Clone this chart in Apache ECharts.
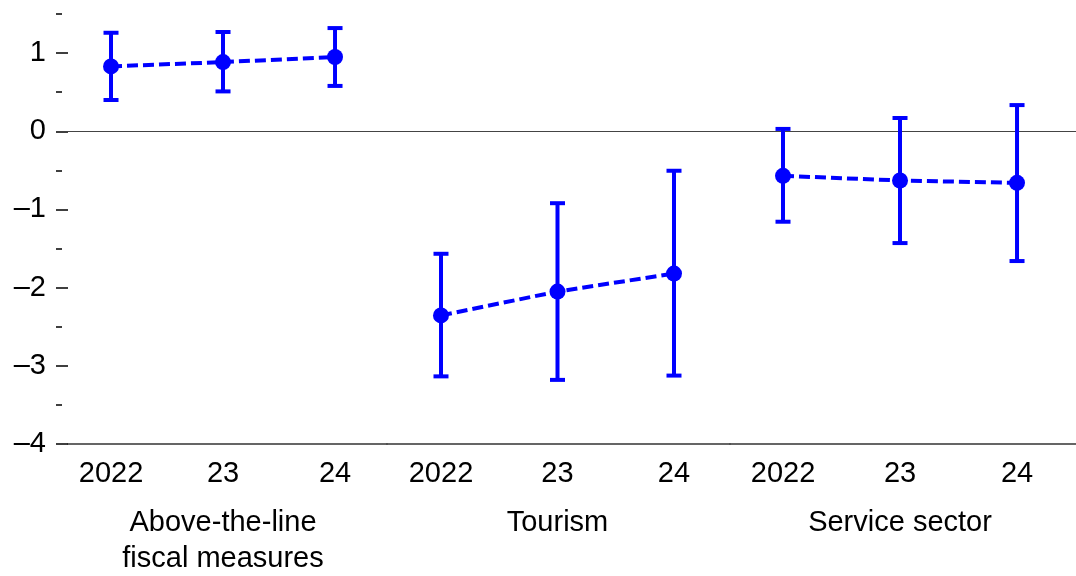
<!DOCTYPE html>
<html>
<head>
<meta charset="utf-8">
<script src="https://cdn.jsdelivr.net/npm/echarts@6/dist/echarts.min.js"></script>
<style>
  html, body { margin: 0; padding: 0; background: #fff; }
  #chart { width: 1076px; height: 576px; }
</style>
</head>
<body>
<div id="chart"></div>
<script>
// Year labels shared by every panel
const years = ['2022', '23', '24'];

// Panel titles (drawn under the middle year)
const groupNames = [
  'Above-the-line\nfiscal measures',
  'Tourism',
  'Service sector'
];

// Point estimates per panel
const fiscalMid = [0.83, 0.885, 0.95];
const tourismMid = [-2.355, -2.05, -1.82];
const serviceMid = [-0.57, -0.63, -0.66];

// Lower / upper bounds of the intervals
const fiscalLow = [0.40, 0.51, 0.58];
const fiscalHigh = [1.26, 1.27, 1.32];
const tourismLow = [-3.135, -3.18, -3.125];
const tourismHigh = [-1.567, -0.92, -0.505];
const serviceLow = [-1.157, -1.43, -1.66];
const serviceHigh = [0.03, 0.17, 0.335];

// Y axis tick values
const majorTicks = [-4, -3, -2, -1, 0, 1];
const minorTicks = [-3.5, -2.5, -1.5, -0.5, 0.5, 1.5];

const FONT = '"Liberation Sans", Arial, sans-serif';
const FONT_SIZE = 29;
const BLUE = '#0000ff';

const mids = [fiscalMid, tourismMid, serviceMid];
const lows = [fiscalLow, tourismLow, serviceLow];
const highs = [fiscalHigh, tourismHigh, serviceHigh];

// Panel layout: pixel frame and x extent of each panel
const panels = [
  { left: 68, width: 319, min: -0.384, max: 2.464 },
  { left: 387, width: 343, min: -0.4635, max: 2.4807 },
  { left: 730, width: 346, min: -0.453, max: 2.504 }
];

const grid = panels.map(p => ({
  left: p.left, width: p.width, top: 14, height: 430,
  containLabel: false, outerBoundsMode: 'none'
}));

const xAxis = [];
panels.forEach((p, gi) => {
  // Year labels plus the baseline of the panel
  xAxis.push({
    type: 'value',
    gridIndex: gi,
    position: 'bottom',
    min: p.min,
    max: p.max,
    splitLine: { show: false },
    axisTick: { show: false },
    axisLine: { show: true, onZero: false, lineStyle: { color: '#333', width: 1.5 } },
    axisLabel: {
      customValues: [0, 1, 2],
      hideOverlap: false,
      margin: 13,
      fontFamily: FONT,
      fontSize: FONT_SIZE,
      lineHeight: 34,
      color: '#000',
      formatter: v => years[Math.round(v)]
    }
  });
  // Panel title, centred under the middle year
  xAxis.push({
    type: 'value',
    gridIndex: gi,
    position: 'bottom',
    min: p.min,
    max: p.max,
    splitLine: { show: false },
    axisTick: { show: false },
    axisLine: { show: false, onZero: false },
    axisLabel: {
      customValues: [1],
      hideOverlap: false,
      margin: 61,
      fontFamily: FONT,
      fontSize: FONT_SIZE,
      lineHeight: 36,
      color: '#000',
      align: 'center',
      formatter: () => groupNames[gi]
    }
  });
});

const yAxis = [];
panels.forEach((p, gi) => {
  yAxis.push({
    type: 'value',
    gridIndex: gi,
    position: 'left',
    min: -4,
    max: 1.5,
    interval: 0.5,
    splitLine: { show: false },
    axisLine: { show: false, onZero: false },
    axisTick: gi === 0 ? {
      show: true,
      customValues: majorTicks,
      length: 12,
      lineStyle: { color: '#000', width: 1.5 }
    } : { show: false },
    axisLabel: gi === 0 ? {
      show: true,
      customValues: majorTicks,
      margin: 22,
      fontFamily: FONT,
      fontSize: FONT_SIZE,
      color: '#000',
      formatter: v => String(v).replace('-', '\u2013')
    } : { show: false }
  });
});
// Short half-unit ticks, set slightly off the axis
yAxis.push({
  type: 'value',
  gridIndex: 0,
  position: 'left',
  offset: 6,
  min: -4,
  max: 1.5,
  interval: 0.5,
  splitLine: { show: false },
  axisLine: { show: false, onZero: false },
  axisLabel: { show: false },
  axisTick: {
    show: true,
    customValues: minorTicks,
    length: 6,
    lineStyle: { color: '#000', width: 1.5 }
  }
});

function errorBar(params, api) {
  const x = api.value(0);
  const top = api.coord([x, api.value(2)]);
  const bot = api.coord([x, api.value(1)]);
  const half = 7.5;
  const style = { stroke: BLUE, lineWidth: 4 };
  return {
    type: 'group',
    children: [
      { type: 'line', shape: { x1: top[0], y1: top[1], x2: bot[0], y2: bot[1] }, style },
      { type: 'line', shape: { x1: top[0] - half, y1: top[1], x2: top[0] + half, y2: top[1] }, style },
      { type: 'line', shape: { x1: bot[0] - half, y1: bot[1], x2: bot[0] + half, y2: bot[1] }, style }
    ]
  };
}

const series = [];
panels.forEach((p, gi) => {
  const xi = gi * 2;
  series.push({
    type: 'custom',
    xAxisIndex: xi,
    yAxisIndex: gi,
    renderItem: errorBar,
    encode: { x: 0, y: [1, 2] },
    data: years.map((_, i) => [i, lows[gi][i], highs[gi][i]]),
    z: 2,
    silent: true
  });
  series.push({
    type: 'line',
    xAxisIndex: xi,
    yAxisIndex: gi,
    data: years.map((_, i) => [i, mids[gi][i]]),
    symbol: 'circle',
    symbolSize: 16,
    itemStyle: { color: BLUE },
    lineStyle: { color: BLUE, width: 4, type: [11, 5] },
    z: 3,
    silent: true,
    markLine: {
      silent: true,
      symbol: 'none',
      label: { show: false },
      lineStyle: { color: '#444', width: 1.2, type: 'solid' },
      data: [{ yAxis: 0 }],
      z: 1
    }
  });
});

const chart = echarts.init(document.getElementById('chart'), null, { renderer: 'canvas' });
chart.setOption({
  animation: false,
  backgroundColor: '#fff',
  grid,
  xAxis,
  yAxis,
  series
});
</script>
</body>
</html>
